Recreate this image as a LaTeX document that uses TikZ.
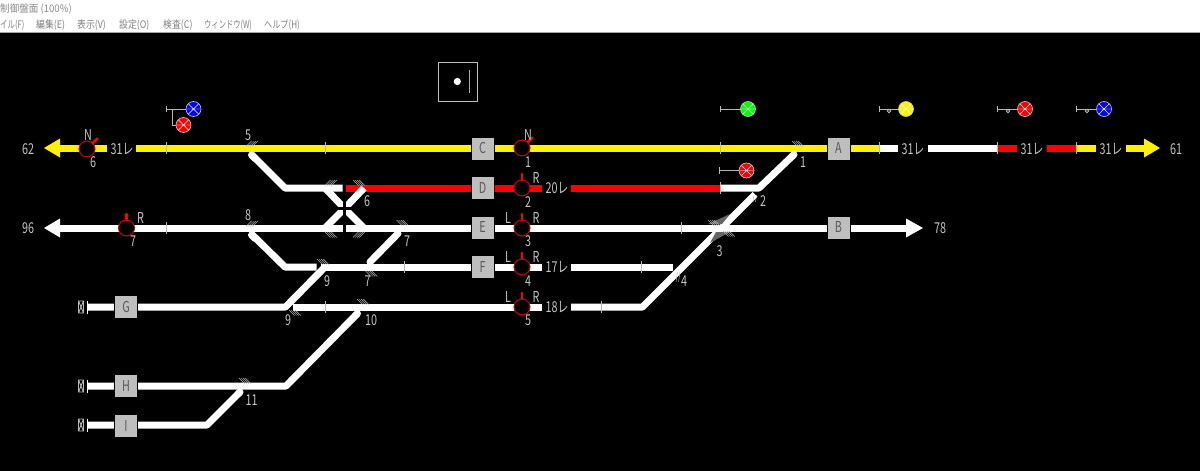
\documentclass[tikz,border=0pt]{standalone}
\usepackage{fontspec}
\setmainfont{Noto Sans CJK JP}
\definecolor{lab}{HTML}{C4C4C4}
\definecolor{tick}{HTML}{B8B8B8}
\definecolor{boxg}{HTML}{BEBEBE}
\definecolor{ltr}{HTML}{5A5A5A}
\definecolor{menu}{HTML}{808080}
\definecolor{sigred}{HTML}{D00000}
\tikzset{
  trk/.style={line width=7pt,line join=round,line cap=butt},
  twh/.style={trk,white},
  tye/.style={trk,yellow},
  tre/.style={trk,red},
  dia/.style={twh,line cap=round},
  ins/.style={tick,line width=.9pt},
  blk/.style={draw=black,line width=0pt,fill=boxg,minimum size=23pt,inner sep=0pt,text=ltr,font=\fontsize{15}{15}\selectfont},
  lb/.style={text=lab,inner sep=0pt,font=\fontsize{15}{15}\selectfont},
  mn/.style={text=menu,anchor=west,inner sep=0pt,font=\fontsize{10.4}{11}\selectfont},
  sg/.style={circle,draw=sigred,fill=black,line width=1pt,minimum size=16pt,inner sep=0pt},
  lv/.style={red,line width=2.8pt,line cap=round},
  lmp/.style={circle,draw=white!80!black,line width=.6pt,minimum size=15pt,inner sep=0pt},
  stem/.style={tick,line width=.8pt},
  hh/.style={tick,line width=.45pt},
}
\newcommand{\nar}[1]{\scalebox{.72}[1]{#1}}
\newcommand{\lbl}[3]{\node[lb] at (#1,#2) {\nar{#3}};}
% hatch: \hba x y = "\" strokes, \hfw x y = "/" strokes
\newcommand{\hba}[2]{\foreach \i in {0,2.1,4.2,6.3}{\draw[hh] (#1+\i,#2) -- ++(5.5,5.5);}}
\newcommand{\hfw}[2]{\foreach \i in {0,2.1,4.2,6.3}{\draw[hh] (#1+\i,#2+5.5) -- ++(5.5,-5.5);}}
% lamp: name x y colour
\newcommand{\lamp}[4]{\node[lmp,fill=#4] (#1) at (#2,#3) {};
  \draw[white,line width=.4pt] (#2-5,#3-5) -- (#2+5,#3+5) (#2-5,#3+5) -- (#2+5,#3-5) (#2-7,#3) -- (#2+7,#3);}
% dwarf stem: x1 x2 y
\newcommand{\stm}[3]{\draw[stem] (#1,#3-3.2) -- (#1,#3+3.2) (#1,#3) -- (#2,#3);}
\newcommand{\stmo}[3]{\stm{#1}{#2}{#3}\draw[stem] (#2-11,#3+2) circle (1.8pt);}
\newcommand{\term}[1]{\draw[tick,line width=.9pt] (78.5,#1-6) rectangle (83.5,#1+6) (78.5,#1-6) -- (83.5,#1+6) (78.5,#1+6) -- (83.5,#1-6);
  \draw[white,line width=1pt] (87.5,#1-6.5) -- (87.5,#1+6.5);}
\newcommand{\sigv}[3]{\node[sg] (#1) at (#2,#3) {}; \draw[lv] (#2,#3-8.5) -- (#2,#3-14);}
\newcommand{\sign}[3]{\node[sg] (#1) at (#2,#3) {}; \draw[lv] (#2+6,#3-6) -- (#2+10.5,#3-10.5);}
\begin{document}
\begin{tikzpicture}[x=1pt,y=-1pt]
\useasboundingbox (0,0) rectangle (1200,471);
\fill[white] (0,0) rectangle (1200,33);
\fill[black] (0,33) rectangle (1200,471);
\draw[black!35,line width=.6pt] (0,32.6) -- (1200,32.6);
% window chrome
\node[mn,text=black!45] at (0,9) {\scalebox{.92}[1]{制御盤面 (100\%)}};
\node[mn] at (0,25) {\scalebox{.72}[1]{イル(F)}};
\node[mn] at (36,25) {\scalebox{.85}[1]{編集(E)}};
\node[mn] at (77,25) {\scalebox{.85}[1]{表示(V)}};
\node[mn] at (119,25) {\scalebox{.85}[1]{設定(O)}};
\node[mn] at (163,25) {\scalebox{.85}[1]{検査(C)}};
\node[mn] at (204,25) {\scalebox{.7}[1]{ウィンドウ(W)}};
\node[mn] at (264,25) {\scalebox{.78}[1]{ヘルプ(H)}};
% indicator box
\draw[white!75!black,line width=1pt] (438,62) rectangle (477,101);
\fill[white] (457.3,81.5) circle (3.6pt);
\draw[white!65!black,line width=1pt] (469.5,69.5) -- (469.5,93);
% track 1
\draw[tye] (58,148) -- (107,148);
\fill[yellow] (44,148) -- (60,138.5) -- (60,157.5) -- cycle;
\draw[tye] (136,148) -- (879,148);
\draw[twh] (879,148) -- (898,148);
\draw[twh] (928,148) -- (998,148);
\draw[tre] (998,148) -- (1017,148);
\draw[tre] (1047,148) -- (1077,148);
\draw[tye] (1077,148) -- (1096,148);
\draw[tye] (1126,148) -- (1146,148);
\fill[yellow] (1160,148) -- (1144,138.5) -- (1144,157.5) -- cycle;
% track 2
\draw[tre] (346,188) -- (542,188);
\draw[tre] (571,188) -- (720,188);
\draw[twh] (720,188) -- (759,188) -- (794,154.5);
\draw[dia] (794,154.5) -- (792,156.5);
\draw[twh] (251.5,154.5) -- (285,188) -- (342.7,188);
\draw[dia] (251.5,155) -- (255,158.5);
% crossover, with its insulating gaps
\draw[twh] (325,188) -- (344.5,208.5);
\draw[twh] (364,188) -- (344.5,208.5);
\draw[twh] (325,228) -- (344.5,208.5);
\draw[twh] (364,228) -- (344.5,208.5);
\draw[black,line width=2.6pt] (344.4,193) -- (344.4,223);
\draw[black,line width=3pt] (332,208.5) -- (357,208.5);
% track 3
\draw[twh] (58,228) -- (342.7,228);
\fill[white] (44,228) -- (60,218.5) -- (60,237.5) -- cycle;
\draw[twh] (346,228) -- (908,228);
\fill[white] (923,228) -- (906,218.5) -- (906,237.5) -- cycle;
% track 4
\draw[twh] (251.5,234) -- (285,267) -- (316.7,267);
\draw[dia] (251.5,235) -- (255,238.5);
\draw[twh] (321,267) -- (542,267);
\draw[twh] (571,267) -- (672.7,267);
\draw[dia] (370,262) -- (398,233.5);
% track 5
\draw[twh] (88,307) -- (285.5,307) -- (325,267);
\draw[twh] (292.7,307) -- (542,307);
\draw[twh] (571,307) -- (642.5,307) -- (755,194.5);
% H, I
\draw[twh] (88,386) -- (286,386) -- (357.5,313.5);
\draw[dia] (357.5,313.5) -- (355,316);
\draw[twh] (88,425) -- (207,425) -- (240,392);
\draw[dia] (240,392) -- (238,394);
% insulation ticks
\foreach \p/\q in {166.5/148,325/148,720.5/148,879/148,997.7/148,1076.7/148,720.5/188,166.5/228,681/228,404/267,641.7/267,325/307,601.7/307}
  {\draw[ins] (\p,\q-6) -- (\p,\q+6);}
% point hatches
\hfw{246}{141}
\hfw{246}{221}
\hfw{325}{180}
\hba{353}{180}
\hba{325}{232}
\hfw{353}{232}
\hba{396.5}{220}
\hba{317}{259}
\hba{365.5}{271}
\hba{357}{299}
\hba{239}{378}
\hba{289}{310}
\hba{792}{141}
\foreach \i in {0,2.5}{\draw[hh] (754+\i,195) -- (753+\i,202);\draw[hh] (677.5+\i,272) -- (676+\i,282);}
% fan of point 3
\fill[tick!55!black] (708,224) -- (730,214) -- (722,224) -- cycle;
\fill[tick!55!black] (730,232) -- (710,243) -- (716,232) -- cycle;
\hba{708}{220}
\hba{723}{231}
% station blocks
\node[blk] (A) at (838.5,148.5) {\nar{A}};
\node[blk] (B) at (838.5,227.5) {\nar{B}};
\node[blk] (C) at (482.5,148.5) {\nar{C}};
\node[blk] (D) at (482.5,188) {\nar{D}};
\node[blk] (E) at (482.5,227.5) {\nar{E}};
\node[blk] (F) at (482.5,267) {\nar{F}};
\node[blk] (G) at (126,307) {\nar{G}};
\node[blk] (H) at (126,386) {\nar{H}};
\node[blk] (I) at (126,425.5) {\nar{I}};
% levers
\sign{s6}{87}{149}
\sigv{s7}{126.5}{228}
\sign{s1}{522}{148}
\sigv{s2}{522}{188}
\sigv{s3}{522}{228}
\sigv{s4}{522}{267}
\sigv{s5}{522}{307}
% terminals
\term{307}
\term{386}
\term{425}
% dwarf signals
\stm{166.5}{188}{109}
\draw[stem] (172.5,109) -- (172.5,125) -- (178,125);
\lamp{l1}{193.5}{109}{blue}
\lamp{l2}{183.5}{125}{red}
\stm{720.5}{742}{109}
\lamp{l3}{748}{109}{green}
\stm{719}{740}{170.5}
\lamp{l4}{746.5}{170.5}{red}
\stmo{879}{900}{109}
\lamp{l5}{906}{109}{yellow}
\stmo{997.5}{1019}{109}
\lamp{l6}{1025}{109}{red}
\stmo{1076.7}{1098}{109}
\lamp{l7}{1104}{109}{blue}
% labels
\lbl{28}{149}{62}
\lbl{28}{228}{96}
\lbl{88}{135.5}{N}
\lbl{93}{162}{6}
\lbl{140.5}{218}{R}
\lbl{133}{241}{7}
\lbl{122}{149}{31レ}
\lbl{913}{149}{31レ}
\lbl{1032}{149}{31レ}
\lbl{1111}{149}{31レ}
\lbl{557}{188.5}{20レ}
\lbl{557}{267.5}{17レ}
\lbl{557}{307.5}{18レ}
\lbl{248}{135.5}{5}
\lbl{248}{215}{8}
\lbl{367}{201.5}{6}
\lbl{407}{241}{7}
\lbl{327}{281}{9}
\lbl{367.5}{281}{7}
\lbl{288}{320.5}{9}
\lbl{371}{320.5}{10}
\lbl{251.5}{400}{11}
\lbl{803}{162}{1}
\lbl{763}{201}{2}
\lbl{719.5}{251}{3}
\lbl{684}{281}{4}
\lbl{528}{162}{1}
\lbl{528}{202}{2}
\lbl{528}{241.5}{3}
\lbl{528}{281}{4}
\lbl{528}{320.5}{5}
\lbl{528}{135.5}{N}
\lbl{536}{178}{R}
\lbl{508}{218}{L}
\lbl{536}{218}{R}
\lbl{508}{257}{L}
\lbl{536}{257}{R}
\lbl{508}{297}{L}
\lbl{536}{297}{R}
\lbl{940}{228}{78}
\lbl{1176}{149}{61}
\end{tikzpicture}
\end{document}
